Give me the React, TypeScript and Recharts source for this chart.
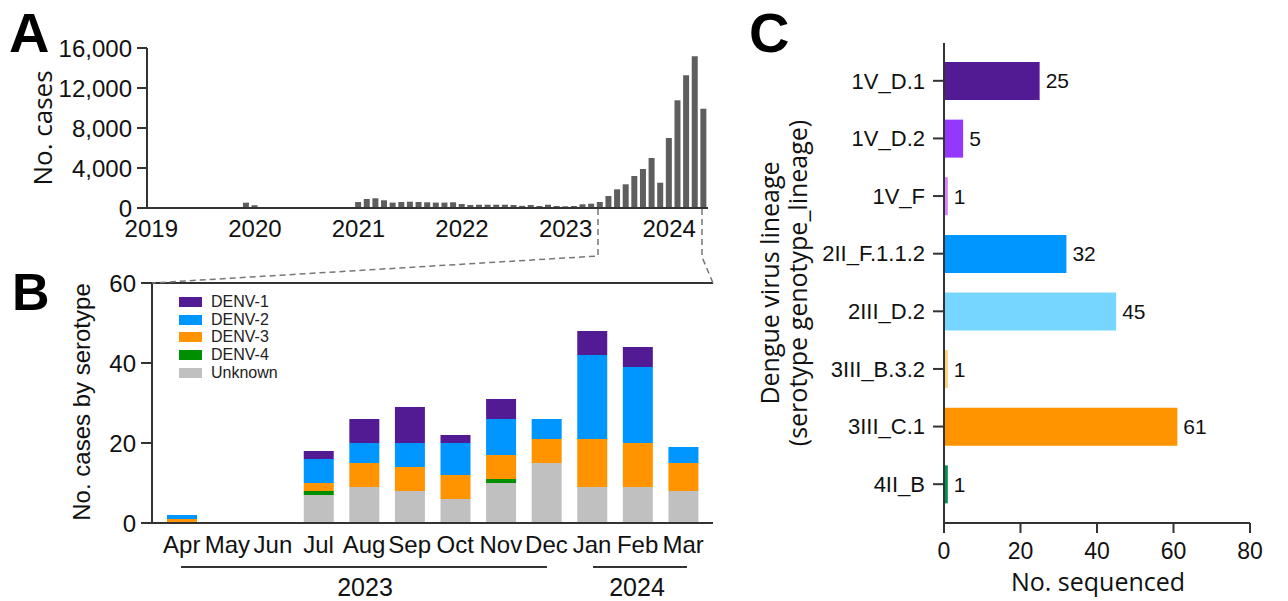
import { BarChart, Bar, XAxis, YAxis, Cell, LabelList, ReferenceLine, Legend } from 'recharts';

// Panel A: monthly reported cases, Jan 2019 onward
const years = ['2019', '2020', '2021', '2022', '2023', '2024'];
const monthNames = ['Jan', 'Feb', 'Mar', 'Apr', 'May', 'Jun', 'Jul', 'Aug', 'Sep', 'Oct', 'Nov', 'Dec'];
const monthlyCases = [
  0, 0, 0, 0, 0, 0, 0, 0, 0, 0, 30, 530,
  270, 0, 0, 0, 0, 0, 0, 0, 0, 0, 0, 0,
  600, 900, 970, 770, 540, 600, 630, 600, 570, 540, 540, 570,
  400, 300, 330, 330, 330, 330, 300, 220, 300, 200, 330, 200,
  170, 200, 370, 430, 600, 1200, 1870, 2370, 3200, 3900, 5000, 2530,
  7000, 10770, 13270, 15170, 9930,
];
const yearTickMonths = years.map((y) => `${y}-Jan`);
const caseTicks = [0, 4000, 8000, 12000, 16000];

// Panel B: cases by serotype, Apr 2023 - Mar 2024
const serotypeMonths = ['Apr', 'May', 'Jun', 'Jul', 'Aug', 'Sep', 'Oct', 'Nov', 'Dec', 'Jan', 'Feb', 'Mar'];
const unknownCases = [0, 0, 0, 7, 9, 8, 6, 10, 15, 9, 9, 8];
const denv4Cases = [0, 0, 0, 1, 0, 0, 0, 1, 0, 0, 0, 0];
const denv3Cases = [1, 0, 0, 2, 6, 6, 6, 6, 6, 12, 11, 7];
const denv2Cases = [1, 0, 0, 6, 5, 6, 8, 9, 5, 21, 19, 4];
const denv1Cases = [0, 0, 0, 2, 6, 9, 2, 5, 0, 6, 5, 0];
const serotypeTicks = [0, 20, 40, 60];

// Panel C: lineages sequenced
const lineages = ['1V_D.1', '1V_D.2', '1V_F', '2II_F.1.1.2', '2III_D.2', '3III_B.3.2', '3III_C.1', '4II_B'];
const sequenced = [25, 5, 1, 32, 45, 1, 61, 1];
const lineageColors = ['#531B93', '#9437FF', '#D783FF', '#0096FF', '#76D6FF', '#FFD479', '#FF9300', '#00904F'];
const sequencedTicks = [0, 20, 40, 60, 80];

const serotypeSeries = [
  { key: 'unknown', name: 'Unknown', color: '#C0C0C0', values: unknownCases },
  { key: 'denv4', name: 'DENV-4', color: '#008F00', values: denv4Cases },
  { key: 'denv3', name: 'DENV-3', color: '#FF9300', values: denv3Cases },
  { key: 'denv2', name: 'DENV-2', color: '#0096FF', values: denv2Cases },
  { key: 'denv1', name: 'DENV-1', color: '#531B93', values: denv1Cases },
];

const caseData = monthlyCases.map((cases, i) => ({
  month: `${years[Math.floor(i / 12)]}-${monthNames[i % 12]}`,
  cases,
}));

const serotypeData = serotypeMonths.map((month, i) => {
  const row: Record<string, any> = { month };
  serotypeSeries.forEach((s) => (row[s.key] = s.values[i]));
  return row;
});

const lineageData = lineages.map((lineage, i) => ({ lineage, count: sequenced[i] }));

const AXIS = { stroke: '#333', strokeWidth: 2 };
const TICK_FONT = '"Liberation Sans", Arial, sans-serif';
const TITLE_FONT = '"Open Sans", "Liberation Sans", sans-serif';

function SerotypeLegend() {
  // DENV-1 on top, same as the stack order read from the top
  const rows = [...serotypeSeries].reverse();
  return (
    <div style={{ fontFamily: TICK_FONT, fontSize: 16, color: '#222' }}>
      {rows.map((s) => (
        <div key={s.key} style={{ display: 'flex', alignItems: 'center', height: 17.7 }}>
          <div style={{ width: 23, height: 10, background: s.color, marginRight: 9 }} />
          <span>{s.name}</span>
        </div>
      ))}
    </div>
  );
}

export default function App() {
  return (
    <div style={{ position: 'absolute', left: 0, top: 0, width: 1288, height: 601, background: '#fff', fontFamily: TICK_FONT }}>
      {/* A */}
      <div style={{ position: 'absolute', left: 0, top: 0 }}>
        <BarChart width={720} height={250} data={caseData} margin={{ top: 48, right: 12, left: 0, bottom: 0 }} barSize={6}>
          <XAxis
            dataKey="month"
            ticks={yearTickMonths}
            interval={0}
            tickFormatter={(v) => years[yearTickMonths.indexOf(v)]}
            tickLine={false}
            axisLine={AXIS}
            tick={{ fontSize: 24, fill: '#111', fontFamily: TICK_FONT }}
            tickMargin={6}
            height={42}
          />
          <YAxis
            width={147}
            domain={[0, 16000]}
            ticks={caseTicks}
            tickFormatter={(v) => Number(v).toLocaleString('en-US')}
            tickSize={10}
            tickMargin={5}
            tickLine={AXIS}
            axisLine={AXIS}
            tick={{ fontSize: 24, fill: '#111', fontFamily: TICK_FONT }}
          />
          <Bar dataKey="cases" fill="#5E5E5E" isAnimationActive={false} />
        </BarChart>
      </div>

      {/* B */}
      <div style={{ position: 'absolute', left: 0, top: 250 }}>
        <BarChart width={730} height={351} data={serotypeData} margin={{ top: 33, right: 17, left: 0, bottom: 0 }} barSize={30}>
          <XAxis
            dataKey="month"
            interval={0}
            padding={{ left: 7, right: 7 }}
            tickLine={false}
            axisLine={AXIS}
            tick={{ fontSize: 24, fill: '#111', fontFamily: TICK_FONT }}
            tickMargin={7}
            height={78}
          />
          <YAxis
            width={152}
            domain={[0, 60]}
            ticks={serotypeTicks}
            tickSize={11}
            tickMargin={5}
            tickLine={AXIS}
            axisLine={AXIS}
            tick={{ fontSize: 24, fill: '#111', fontFamily: TICK_FONT }}
          />
          <YAxis yAxisId="frame" orientation="right" width={0} domain={[0, 60]} tick={false} tickLine={false} axisLine={AXIS} />
          <ReferenceLine y={60} stroke="#333" strokeWidth={2} />
          <Legend
            layout="vertical"
            align="center"
            verticalAlign="middle"
            wrapperStyle={{ top: 43, left: 179, width: 150 }}
            content={() => <SerotypeLegend />}
          />
          {serotypeSeries.map((s) => (
            <Bar key={s.key} dataKey={s.key} name={s.name} stackId="a" fill={s.color} isAnimationActive={false} />
          ))}
        </BarChart>
      </div>

      {/* C */}
      <div style={{ position: 'absolute', left: 740, top: 0 }}>
        <BarChart width={548} height={601} data={lineageData} layout="vertical" margin={{ top: 43, right: 38, left: 0, bottom: 0 }}>
          <XAxis
            type="number"
            domain={[0, 80]}
            ticks={sequencedTicks}
            tickSize={10}
            tickMargin={10}
            tickLine={AXIS}
            axisLine={AXIS}
            tick={{ fontSize: 23, fill: '#111', fontFamily: TICK_FONT }}
            height={78}
          />
          <YAxis
            type="category"
            dataKey="lineage"
            width={204}
            padding={{ top: 9, bottom: 10 }}
            tickSize={11}
            tickMargin={8}
            tickLine={AXIS}
            axisLine={AXIS}
            interval={0}
            tick={{ fontSize: 22, fill: '#111', fontFamily: TICK_FONT }}
          />
          <Bar dataKey="count" barSize={38} isAnimationActive={false}>
            {lineageData.map((d, i) => (
              <Cell key={d.lineage} fill={lineageColors[i]} />
            ))}
            <LabelList dataKey="count" position="right" offset={6} fill="#111" fontSize={21} fontFamily={TICK_FONT} />
          </Bar>
        </BarChart>
      </div>

      {/* letters, titles and connectors */}
      <svg width={1288} height={601} style={{ position: 'absolute', left: 0, top: 0, pointerEvents: 'none' }}>
        <g fontFamily='"Liberation Sans Narrow", "Liberation Sans", sans-serif' fontWeight={700} fill="#000">
          <text x={9} y={52} fontSize={56}>A</text>
          <text x={12} y={310} fontSize={52}>B</text>
          <text x={749} y={52} fontSize={56}>C</text>
        </g>

        <text transform="translate(52,128) rotate(-90)" textAnchor="middle" fontFamily={TITLE_FONT} fontSize={26} fill="#111">No. cases</text>
        <text transform="translate(90,402) rotate(-90)" textAnchor="middle" fontFamily={TICK_FONT} fontSize={24} fill="#111">No. cases by serotype</text>
        <text transform="translate(779,283) rotate(-90)" textAnchor="middle" fontFamily={TITLE_FONT} fontSize={25} fill="#111">Dengue virus lineage</text>
        <text transform="translate(807,283) rotate(-90)" textAnchor="middle" fontFamily={TITLE_FONT} fontSize={25} fill="#111">(serotype genotype_lineage)</text>
        <text x={1098} y={591} textAnchor="middle" fontFamily={TITLE_FONT} fontSize={25} fill="#111">No. sequenced</text>

        <line x1={181} y1={567} x2={547} y2={567} stroke="#333" strokeWidth={2} />
        <line x1={593} y1={567} x2={687} y2={567} stroke="#333" strokeWidth={2} />
        <text x={365} y={596} textAnchor="middle" fontFamily={TICK_FONT} fontSize={25} fill="#111">2023</text>
        <text x={637} y={596} textAnchor="middle" fontFamily={TICK_FONT} fontSize={25} fill="#111">2024</text>

        <polyline points="598,209 598,256 152,283" fill="none" stroke="#777" strokeWidth={1.5} strokeDasharray="6 4" />
        <polyline points="702,209 702,257 713,283" fill="none" stroke="#777" strokeWidth={1.5} strokeDasharray="6 4" />
      </svg>
    </div>
  );
}
